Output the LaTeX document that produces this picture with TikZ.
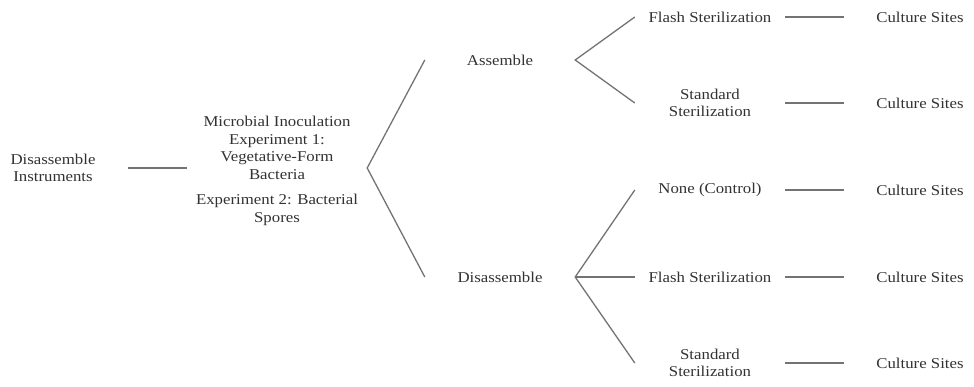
\documentclass[tikz,border=0pt]{standalone}
\usepackage{fontspec}
\setmainfont{Liberation Serif}[FakeStretch=1.12]
\usetikzlibrary{positioning}
\definecolor{inkgray}{RGB}{50,50,50}
\definecolor{linegray}{RGB}{115,115,115}
\tikzset{
  stagenode/.style={text=inkgray, align=center, inner sep=0pt, font=\fontsize{15}{17.5}\selectfont},
  armnode/.style={stagenode, minimum width=150pt},
  sitenode/.style={stagenode, minimum width=152pt},
  link/.style={draw=linegray, line width=1.3pt}
}

\begin{document}
\begin{tikzpicture}[x=1pt, y=-1pt]
  \useasboundingbox (0,0) rectangle (974,386);
  \node [stagenode, minimum width=150pt] (instr) at (53,168) {Disassemble\\Instruments};
  \node [stagenode, minimum width=180pt] (micro) at (277,171) {Microbial Inoculation\\Experiment 1:\\Vegetative-Form\\Bacteria\\[8pt]Experiment 2: Bacterial\\Spores};
  \node [armnode] (asm) at (500,60) {Assemble};
  \node [armnode] (dis) at (500,277) {Disassemble};

  % sterilization arms
  \node [armnode] (flashA) at (710,17) {Flash Sterilization};
  \node [armnode] (stdA) at (710,103) {Standard\\Sterilization};
  \node [armnode] (ctrlB) at (710,190) {None (Control)};
  \node [armnode] (flashB) at (710,277) {Flash Sterilization};
  \node [armnode] (stdB) at (710,363) {Standard\\Sterilization};

  \foreach \arm/\y in {flashA/17, stdA/103, ctrlB/190, flashB/277, stdB/363} {
    \node [sitenode] (site\arm) at (920,\y) {Culture Sites};
    \draw [link] (\arm.east) -- (site\arm.west);
  }

  \draw [link] (instr.east) -- (micro.west |- instr.east);
  \draw [link] (asm.west) -- (micro.east |- instr.east) -- (dis.west);
  \draw [link] (flashA.west) -- (asm.east) -- (stdA.west);
  \draw [link] (ctrlB.west) -- (dis.east) -- (stdB.west);
  \draw [link] (dis.east) -- (flashB.west);
\end{tikzpicture}
\end{document}
